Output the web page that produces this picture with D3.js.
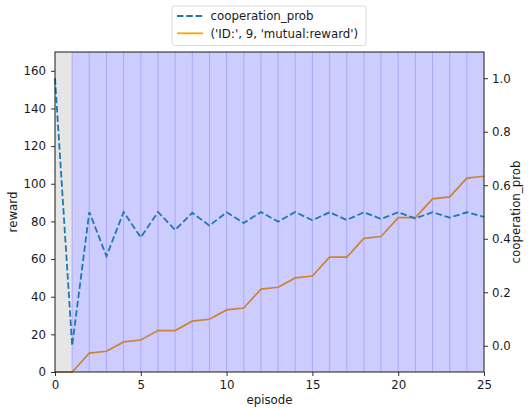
<!DOCTYPE html>
<html><head><meta charset="utf-8">
<script src="https://cdn.jsdelivr.net/npm/d3@7"></script>
<style>body{margin:0;background:#fff}text{font-family:"DejaVu Sans",sans-serif}</style>
</head><body><svg id="c" width="528" height="409"></svg>
<script>
const episodes = d3.range(0, 26);
const reward = [0,0,10,11,16,17,22,22,27,28,33,34,44,45,50,51,61,61,71,72,82,82,92,93,103,104];
const coopProb = [1.0,0.0,0.5,0.335,0.5,0.405,0.5,0.433,0.497,0.449,0.499,0.459,0.5,0.464,0.5,0.469,0.499,0.47,0.499,0.474,0.499,0.476,0.499,0.479,0.499,0.482];
const xTicks = [0,5,10,15,20,25];
const yLeftTicks = [0,20,40,60,80,100,120,140,160];
const yRightTicks = [0,0.2,0.4,0.6,0.8,1.0];
const legendLabels = ["cooperation_prob","('ID:', 9, 'mutual:reward')"];

const svg = d3.select("#c");
const L=55, R=484, T=52, B=372;
const x = d3.scaleLinear().domain([0,25]).range([L,R]);
const yL = d3.scaleLinear().domain([0,170]).range([B,T]);
const yR = d3.scaleLinear().domain([-0.098,1.098]).range([B,T]);
const fs = "11.8px";
const ink = "#1a1a1a";

// background spans
svg.append("rect").attr("x",x(0)).attr("y",T).attr("width",x(1)-x(0)).attr("height",B-T).attr("fill","#e6e6e6");
svg.append("rect").attr("x",x(1)).attr("y",T).attr("width",x(25)-x(1)).attr("height",B-T).attr("fill","#ccccff");
svg.selectAll(".vl").data(d3.range(1,25)).enter().append("line")
  .attr("x1",d=>x(d)).attr("x2",d=>x(d)).attr("y1",T).attr("y2",B)
  .attr("stroke","#aaaaf6").attr("stroke-width",1);

// reward line
const lineR = d3.line().x((d,i)=>x(episodes[i])).y(d=>yL(d));
svg.append("path").datum(reward).attr("d",lineR).attr("fill","none").attr("stroke","#cc8433").attr("stroke-width",1.7);

// coop line
const lineC = d3.line().x((d,i)=>x(episodes[i])).y(d=>yR(d));
svg.append("path").datum(coopProb).attr("d",lineC).attr("fill","none").attr("stroke","#1f77b4").attr("stroke-width",1.8).attr("stroke-dasharray","6.5,2.8");

// axes
const ax = svg.append("g").attr("transform",`translate(0,${B})`).call(d3.axisBottom(x).tickValues(xTicks).tickFormat(d3.format("d")).tickSizeOuter(0).tickSize(4).tickPadding(5));
const ayl = svg.append("g").attr("transform",`translate(${L},0)`).call(d3.axisLeft(yL).tickValues(yLeftTicks).tickSizeOuter(0).tickSize(4).tickPadding(5));
const ayr = svg.append("g").attr("transform",`translate(${R},0)`).call(d3.axisRight(yR).tickValues(yRightTicks).tickFormat(d3.format(".1f")).tickSizeOuter(0).tickSize(4).tickPadding(4));
[ax,ayl,ayr].forEach(g=>{g.selectAll("text").attr("font-size",fs).attr("fill",ink).style("font-family","DejaVu Sans");g.selectAll(".domain").remove();g.selectAll("line").attr("stroke",ink).attr("stroke-width",0.9);});
svg.append("rect").attr("x",L).attr("y",T).attr("width",R-L).attr("height",B-T).attr("fill","none").attr("stroke",ink).attr("stroke-width",1);

// labels
svg.append("text").attr("x",(L+R)/2).attr("y",403.5).attr("text-anchor","middle").attr("font-size",fs).attr("fill",ink).text("episode");
svg.append("text").attr("transform",`translate(17,${(T+B)/2}) rotate(-90)`).attr("text-anchor","middle").attr("font-size",fs).attr("fill",ink).text("reward");
svg.append("text").attr("transform",`translate(520,${(T+B)/2}) rotate(-90)`).attr("text-anchor","middle").attr("font-size",fs).attr("fill",ink).text("cooperation_prob");

// legend
const lg = svg.append("g");
lg.append("rect").attr("x",172).attr("y",6).attr("width",194).attr("height",39.5).attr("rx",2.5).attr("fill","#fff").attr("stroke","#d6d6d6").attr("stroke-width",0.9);
const lc = [{c:"#1f77b4",dash:"6.5,2.8"},{c:"#ffa500",dash:null}];
legendLabels.forEach((t,i)=>{
  const yy = 16 + i*17.3;
  const ln = lg.append("line").attr("x1",177).attr("x2",203).attr("y1",yy).attr("y2",yy).attr("stroke",lc[i].c).attr("stroke-width",1.8);
  if(lc[i].dash) ln.attr("stroke-dasharray",lc[i].dash);
  lg.append("text").attr("x",210.5).attr("y",yy+4.2).attr("font-size",fs).attr("fill",ink).text(t);
});
</script></body></html>
